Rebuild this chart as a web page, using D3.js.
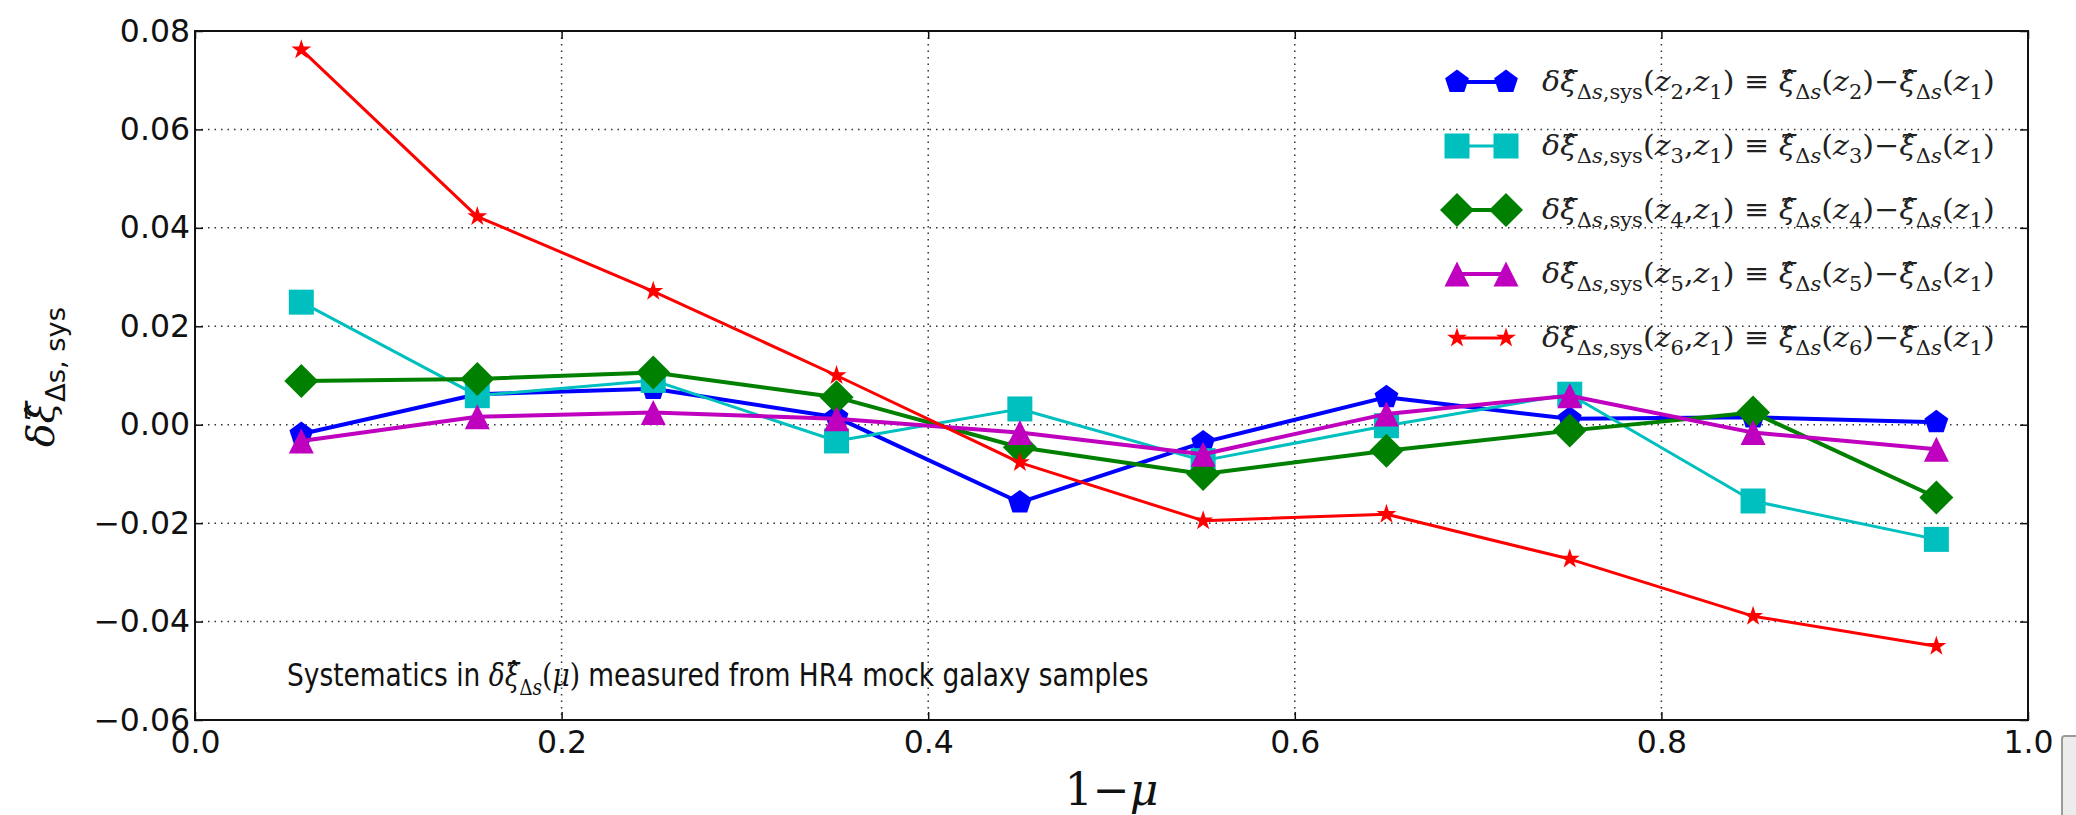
<!DOCTYPE html>
<html>
<head>
<meta charset="utf-8">
<script src="https://cdn.jsdelivr.net/npm/d3@7"></script>
<style>
  body { margin: 0; background: #fff; }
  svg { display: block; }
  .tick text { font-family: "DejaVu Sans", sans-serif; font-size: 31.5px; fill: #111; }
</style>
</head>
<body>
<div id="chart"></div>
<script>
// data
var muValues = [0.058, 0.154, 0.25, 0.35, 0.45, 0.55, 0.65, 0.75, 0.85, 0.95];
var sysZ2 = [-0.0019, 0.0062, 0.0073, 0.0015, -0.0158, -0.0036, 0.0056, 0.0012, 0.0015, 0.0005];
var sysZ3 = [0.0249, 0.0059, 0.0090, -0.0033, 0.0032, -0.0073, -0.0002, 0.0062, -0.0155, -0.0233];
var sysZ4 = [0.0089, 0.0093, 0.0106, 0.0056, -0.0046, -0.0100, -0.0053, -0.0012, 0.0025, -0.0148];
var sysZ5 = [-0.0033, 0.0016, 0.0025, 0.0012, -0.0016, -0.0060, 0.0022, 0.0059, -0.0016, -0.0050];
var sysZ6 = [0.0762, 0.0423, 0.0271, 0.0100, -0.0077, -0.0195, -0.0182, -0.0273, -0.0389, -0.0450];
var zIndex = ["2", "3", "4", "5", "6"];
var xTicks = [0, 0.2, 0.4, 0.6, 0.8, 1.0];
var yTicks = [-0.06, -0.04, -0.02, 0, 0.02, 0.04, 0.06, 0.08];

var svgWidth = 2076;
var svgHeight = 815;

var margin = { top: 31, right: 48, bottom: 95, left: 195 };
var width = svgWidth - margin.left - margin.right;
var height = svgHeight - margin.top - margin.bottom;

var svg = d3.select("#chart")
  .append("svg")
  .attr("width", svgWidth)
  .attr("height", svgHeight);

var chartGroup = svg.append("g")
  .attr("transform", `translate(${margin.left}, ${margin.top})`);

var xScale = d3.scaleLinear().domain([0, 1]).range([0, width]);
var yScale = d3.scaleLinear().domain([-0.06, 0.08]).range([height, 0]);

// series styles (matplotlib classic colours)
var series = [
  { z: zIndex[0], values: sysZ2, color: "#0000ff", marker: "pentagon", lw: 4 },
  { z: zIndex[1], values: sysZ3, color: "#00bfbf", marker: "square", lw: 3 },
  { z: zIndex[2], values: sysZ4, color: "#008000", marker: "diamond", lw: 4 },
  { z: zIndex[3], values: sysZ5, color: "#bf00bf", marker: "triangle", lw: 4 },
  { z: zIndex[4], values: sysZ6, color: "#ff0000", marker: "star", lw: 3 }
];

function polyPath(n, r, inner) {
  var pts = [];
  var count = inner ? n * 2 : n;
  for (var i = 0; i < count; i++) {
    var rr = (inner && i % 2 === 1) ? r * inner : r;
    var a = -Math.PI / 2 + i * 2 * Math.PI / count;
    pts.push([rr * Math.cos(a), rr * Math.sin(a)]);
  }
  return "M" + pts.map(p => p[0].toFixed(2) + "," + p[1].toFixed(2)).join("L") + "Z";
}

function markerPath(kind) {
  if (kind === "pentagon") return polyPath(5, 12.5);
  if (kind === "square") return "M-12.5,-12.5H12.5V12.5H-12.5Z";
  if (kind === "diamond") return "M0,-17L17,0L0,17L-17,0Z";
  if (kind === "triangle") return "M0,-12.5L12.5,12.5L-12.5,12.5Z";
  return polyPath(5, 10.5, 0.381966);
}

// grid
chartGroup.append("g")
  .selectAll("line")
  .data(xTicks.slice(1, -1))
  .enter()
  .append("line")
  .attr("x1", d => xScale(d))
  .attr("x2", d => xScale(d))
  .attr("y1", 0)
  .attr("y2", height)
  .attr("stroke", "#333")
  .attr("stroke-width", 1.5)
  .attr("stroke-dasharray", "1.5,5");

chartGroup.append("g")
  .selectAll("line")
  .data(yTicks.slice(1, -1))
  .enter()
  .append("line")
  .attr("x1", 0)
  .attr("x2", width)
  .attr("y1", d => yScale(d))
  .attr("y2", d => yScale(d))
  .attr("stroke", "#333")
  .attr("stroke-width", 1.5)
  .attr("stroke-dasharray", "1.5,5");

// axes, ticks pointing inward
var fmtY = v => d3.format(".2f")(v).replace("-", "\u2212");

var leftAxis = chartGroup.append("g")
  .call(d3.axisLeft(yScale).tickValues(yTicks).tickSize(-8).tickPadding(5).tickFormat(fmtY));
var bottomAxis = chartGroup.append("g")
  .attr("transform", `translate(0, ${height})`)
  .call(d3.axisBottom(xScale).tickValues(xTicks).tickSize(-8).tickPadding(11).tickFormat(d3.format(".1f")));
var rightAxis = chartGroup.append("g")
  .attr("transform", `translate(${width}, 0)`)
  .call(d3.axisRight(yScale).tickValues(yTicks).tickSize(-8).tickFormat(""));
var topAxis = chartGroup.append("g")
  .call(d3.axisTop(xScale).tickValues(xTicks).tickSize(-8).tickFormat(""));

[leftAxis, bottomAxis, rightAxis, topAxis].forEach(function(ax) {
  ax.select(".domain").remove();
  ax.selectAll(".tick line").attr("stroke", "#111").attr("stroke-width", 1.5);
});

// lines and markers
var line = d3.line()
  .x((d, i) => xScale(muValues[i]))
  .y(d => yScale(d));

series.forEach(function(s) {
  var g = chartGroup.append("g");
  g.append("path")
    .datum(s.values)
    .attr("d", line)
    .attr("fill", "none")
    .attr("stroke", s.color)
    .attr("stroke-width", s.lw)
    .attr("stroke-linejoin", "round");
  g.selectAll("path.mk")
    .data(s.values)
    .enter()
    .append("path")
    .classed("mk", true)
    .attr("transform", (d, i) => `translate(${xScale(muValues[i])}, ${yScale(d)})`)
    .attr("d", markerPath(s.marker))
    .attr("fill", s.color);
});

// frame
chartGroup.append("rect")
  .attr("width", width)
  .attr("height", height)
  .attr("fill", "none")
  .attr("stroke", "#111")
  .attr("stroke-width", 2);

// math text helper: parts with sub / italic flags
function addMath(textSel, parts, fs, family) {
  var shift = 0;
  parts.forEach(function(p) {
    var target = p.sub ? fs * 0.28 : 0;
    textSel.append("tspan")
      .attr("dy", target - shift)
      .attr("font-size", p.sub ? fs * 0.7 : fs)
      .attr("font-style", p.it ? "italic" : "normal")
      .attr("font-family", p.fam || family)
      .text(p.t);
    shift = target;
  });
  return textSel;
}

// squeeze a text to a target width, anchored at (x, y)
function fitText(textSel, x, y, targetW, rotate) {
  var w = textSel.node().getComputedTextLength();
  var k = targetW / w;
  textSel.attr("transform", `translate(${x}, ${y})` + (rotate ? ` rotate(${rotate})` : "") + ` scale(${k}, 1)`);
}

var serif = "'DejaVu Serif', serif";
var sans = "'DejaVu Sans', sans-serif";

// legend
var legendGroup = svg.append("g");
series.forEach(function(s, i) {
  var cy = 82 + i * 64;
  legendGroup.append("line")
    .attr("x1", 1457).attr("x2", 1506)
    .attr("y1", cy).attr("y2", cy)
    .attr("stroke", s.color)
    .attr("stroke-width", s.lw);
  [1457, 1506].forEach(function(mx) {
    legendGroup.append("path")
      .attr("transform", `translate(${mx}, ${cy})`)
      .attr("d", markerPath(s.marker))
      .attr("fill", s.color);
  });
  var t = legendGroup.append("text").attr("fill", "#222");
  addMath(t, [
    { t: "\u03b4\u03be\u0302", it: true },
    { t: "\u0394", sub: true }, { t: "s", sub: true, it: true }, { t: ",sys", sub: true },
    { t: "(" }, { t: "z", it: true }, { t: s.z, sub: true }, { t: "," },
    { t: "z", it: true }, { t: "1", sub: true }, { t: ") \u2261 " },
    { t: "\u03be\u0302", it: true }, { t: "\u0394", sub: true }, { t: "s", sub: true, it: true },
    { t: "(" }, { t: "z", it: true }, { t: s.z, sub: true }, { t: ")\u2212" },
    { t: "\u03be\u0302", it: true }, { t: "\u0394", sub: true }, { t: "s", sub: true, it: true },
    { t: "(" }, { t: "z", it: true }, { t: "1", sub: true }, { t: ")" }
  ], 28, serif);
  fitText(t, 1542, cy + 9, 453);
});

// annotation
var note = svg.append("text").attr("fill", "#111");
addMath(note, [
  { t: "Systematics in ", fam: sans },
  { t: "\u03b4\u03be\u0302", it: true }, { t: "\u0394", sub: true }, { t: "s", sub: true, it: true },
  { t: "(" }, { t: "\u03bc", it: true }, { t: ")" },
  { t: " measured from HR4 mock galaxy samples", fam: sans }
], 32, serif);
fitText(note, 287, 686, 862);

// x label
svg.append("text")
  .attr("x", margin.left + width / 2)
  .attr("y", 805)
  .attr("text-anchor", "middle")
  .attr("font-family", serif)
  .attr("font-size", 44)
  .attr("fill", "#111")
  .html("1\u2212<tspan font-style='italic'>\u03bc</tspan>");

// y label
var yLabel = svg.append("text").attr("fill", "#111");
addMath(yLabel, [
  { t: "\u03b4\u03be\u0302", it: true },
  { t: "\u0394s, sys", sub: true, fam: sans }
], 38, serif);
fitText(yLabel, 54, 447, 140, -90);

// window widget in the bottom corner of the screenshot
svg.append("rect")
  .attr("x", 2062).attr("y", 736)
  .attr("width", 24).attr("height", 90)
  .attr("rx", 3)
  .attr("fill", "#ececec")
  .attr("stroke", "#9a9a9a")
  .attr("stroke-width", 2);
</script>
</body>
</html>
